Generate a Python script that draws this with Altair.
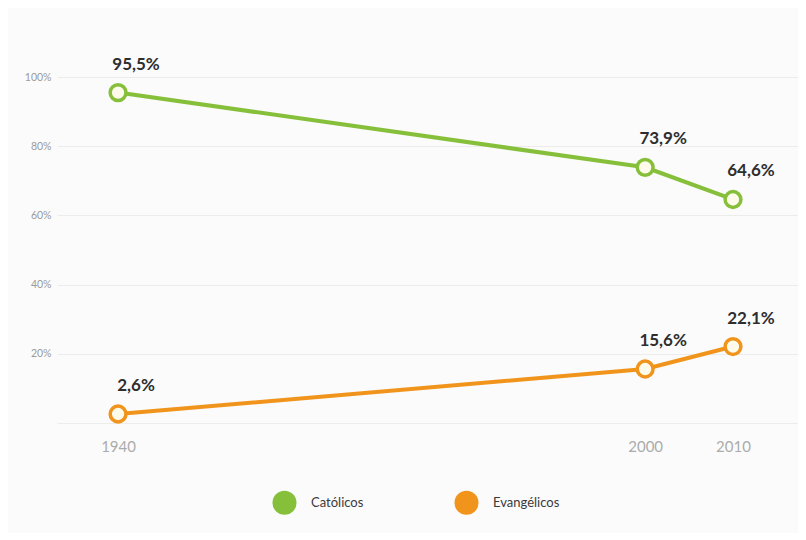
import altair as alt
import pandas as pd

years = [1940, 2000, 2010]
catolicos = [95.5, 73.9, 64.6]
evangelicos = [2.6, 15.6, 22.1]
series = ["Católicos", "Evangélicos"]
colors = ["#86bf3a", "#f0941c"]
y_ticks = [0, 20, 40, 60, 80, 100]

rows = []
for name, vals in zip(series, [catolicos, evangelicos]):
    for yr, v in zip(years, vals):
        rows.append({"ano": yr, "valor": v, "serie": name,
                     "rotulo": f"{v:.1f}".replace(".", ",") + "%"})
df = pd.DataFrame(rows)

x = alt.X("ano:Q",
          scale=alt.Scale(domain=[1933.05, 2017.4], nice=False, zero=False),
          axis=alt.Axis(values=years, format="d", grid=False, domain=False, ticks=False,
                        labelFontSize=15, labelColor="#ababab", labelFont="Lato",
                        labelFontWeight="normal", labelPadding=16, title=None))
y = alt.Y("valor:Q",
          scale=alt.Scale(domain=[0, 100], nice=False),
          axis=alt.Axis(values=y_ticks, labelExpr="datum.value == 0 ? '' : datum.value + '%'",
                        grid=True, gridColor="#ececec", gridWidth=1.2, domain=False, ticks=False,
                        labelFontSize=10.5, labelColor="#9a9a9a", labelFont="Lato",
                        labelPadding=6, title=None))

stroke_scale = alt.Scale(domain=series, range=colors)

base = alt.Chart(df)

legend_layer = base.mark_circle(opacity=1, size=10).encode(
    x=x, y=y,
    fill=alt.Fill("serie:N", scale=alt.Scale(domain=series, range=colors),
                  legend=alt.Legend(title=None, orient="none", legendX=215, legendY=413,
                                    direction="horizontal", symbolType="circle",
                                    symbolSize=580, symbolOpacity=1, symbolStrokeWidth=0,
                                    labelFontSize=13, labelColor="#3a3a3a", labelFont="Lato",
                                    labelOffset=14, columnPadding=90, padding=0)))

line = base.mark_line(strokeWidth=4).encode(
    x=x, y=y, stroke=alt.Stroke("serie:N", scale=stroke_scale, legend=None))

pts = base.mark_point(filled=False, size=250, strokeWidth=3.5, fill="#fffbea", fillOpacity=1, opacity=1).encode(
    x=x, y=y, stroke=alt.Stroke("serie:N", scale=stroke_scale, legend=None))

labels = base.mark_text(dx=18, dy=-28, fontSize=17, font="Lato", fontWeight="bold",
                        color="#2e2e2e").encode(x=x, y=y, text="rotulo:N")

chart = alt.layer(legend_layer, line, pts, labels).properties(
    width=741, height=346,
    autosize=alt.AutoSizeParams(type="none"),
    padding={"left": 49, "top": 69, "right": 0, "bottom": 110},
    background="#fbfbfb",
).configure_view(stroke=None)

chart.save("out.html", embed_options={"renderer": "svg", "actions": False})
